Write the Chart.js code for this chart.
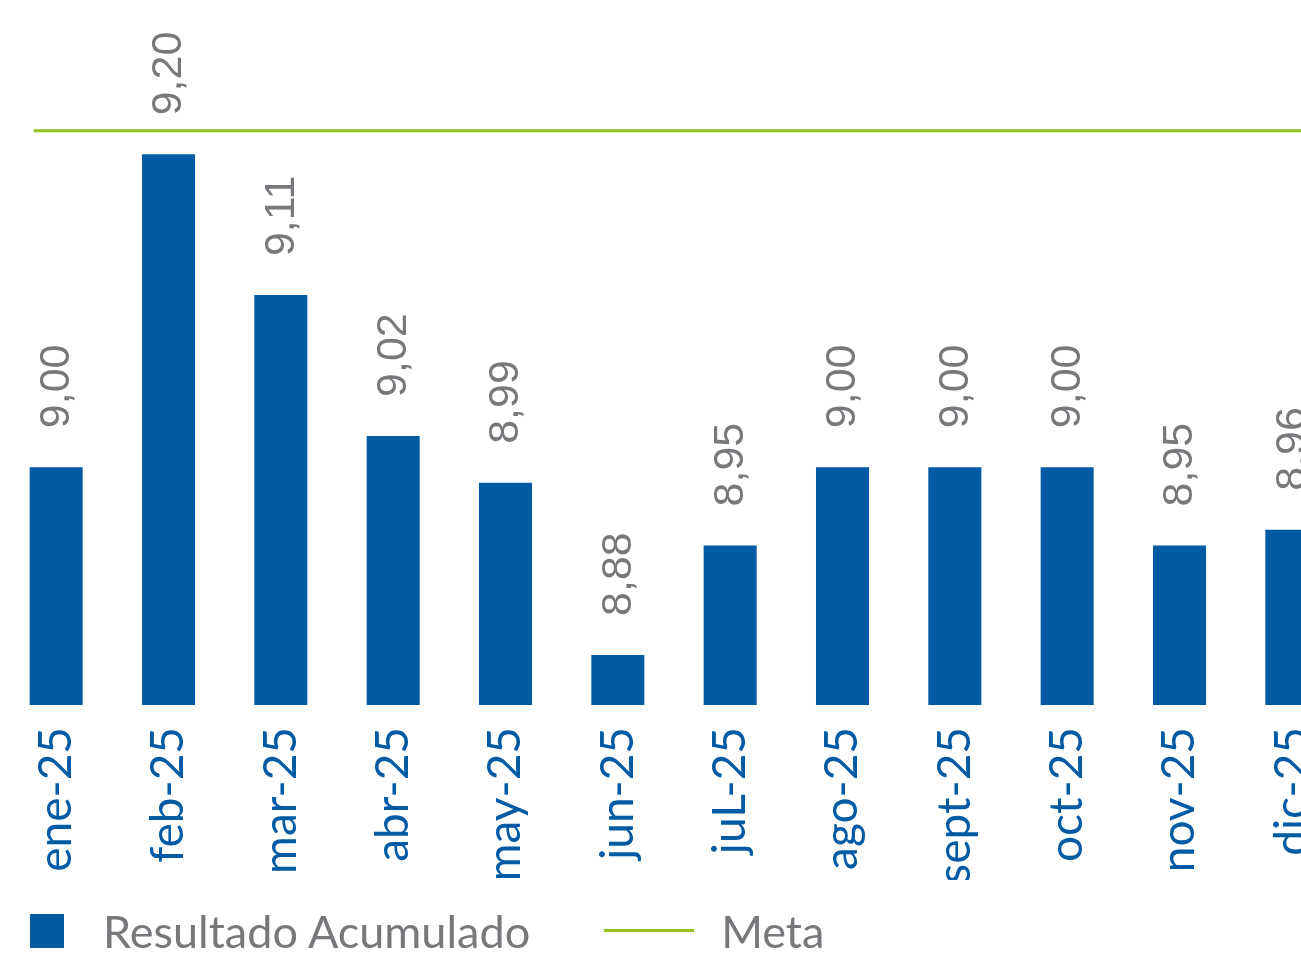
<!DOCTYPE html>
<html lang="es">
<head>
<meta charset="utf-8">
<title>Resultado Acumulado vs Meta</title>
<script src="https://cdn.jsdelivr.net/npm/chart.js@4/dist/chart.umd.min.js"></script>
<style>
  html, body { margin: 0; padding: 0; background: #ffffff; overflow: hidden; }
  #wrap { position: relative; width: 1348px; height: 955px; }
  #chart { display: block; }
  #legend { position: absolute; left: 0; top: 893px; height: 75px; width: 1301px;
            display: flex; align-items: center; font-family: Lato, sans-serif;
            font-size: 45px; color: #77787b; }
  .sw-box { width: 34px; height: 34px; margin-left: 30px; margin-right: 39px; }
  .sw-line { width: 90px; height: 3px; margin-left: 74px; margin-right: 27px; }
</style>
</head>
<body>
<div id="wrap">
  <canvas id="chart" width="1348" height="955"></canvas>
  <div id="legend"></div>
</div>
<script>
// Monthly values
const months = ['ene-25','feb-25','mar-25','abr-25','may-25','jun-25','juL-25','ago-25','sept-25','oct-25','nov-25','dic-25'];
const resultadoAcumulado = [9.00, 9.20, 9.11, 9.02, 8.99, 8.88, 8.95, 9.00, 9.00, 9.00, 8.95, 8.96];
const metaValue = 9.215;
const metaSpan = [-0.2, 11.5];

const BLUE = '#005ba4';
const GREEN = '#95c11f';
const GREY = '#77787b';

const fmt = v => v.toFixed(2).replace('.', ',');

// Vertical value labels above each bar
const barValueLabels = {
  id: 'barValueLabels',
  afterDatasetsDraw(chart) {
    const meta = chart.getDatasetMeta(0);
    const ctx = chart.ctx;
    ctx.save();
    ctx.fillStyle = GREY;
    ctx.font = '43px "Liberation Sans", Arial, sans-serif';
    ctx.textAlign = 'left';
    ctx.textBaseline = 'middle';
    meta.data.forEach((bar, i) => {
      ctx.save();
      ctx.translate(bar.x + 1, bar.y - 39);
      ctx.rotate(-Math.PI / 2);
      ctx.fillText(fmt(resultadoAcumulado[i]), 0, 0);
      ctx.restore();
    });
    ctx.restore();
  }
};

const chart = new Chart(document.getElementById('chart'), {
  type: 'bar',
  data: {
    labels: months,
    datasets: [
      {
        type: 'bar',
        label: 'Resultado Acumulado',
        data: resultadoAcumulado,
        backgroundColor: BLUE,
        borderWidth: 0,
        grouped: false,
        categoryPercentage: 1,
        barPercentage: 0.472,
        order: 2
      },
      {
        type: 'line',
        label: 'Meta',
        data: metaSpan.map(x => ({ x, y: metaValue })),
        xAxisID: 'x2',
        borderColor: GREEN,
        borderWidth: 3,
        pointRadius: 0,
        fill: false,
        order: 1
      }
    ]
  },
  options: {
    responsive: false,
    animation: false,
    layout: { padding: { top: 1, left: 0, right: 0, bottom: 75 } },
    plugins: {
      legend: { display: false },
      tooltip: { enabled: false }
    },
    scales: {
      x: {
        grid: { display: false, drawTicks: false },
        border: { display: false },
        ticks: {
          color: BLUE,
          font: { family: 'Lato, sans-serif', size: 46 },
          minRotation: 90,
          maxRotation: 90,
          padding: 22,
          autoSkip: false
        },
        afterFit(scale) {
          scale.height = 175;
          scale.paddingLeft = 0;
          scale.paddingRight = 0;
        }
      },
      x2: {
        type: 'linear',
        display: false,
        offset: false,
        grid: { offset: false },
        min: -0.5,
        max: 11.5
      },
      y: {
        display: false,
        min: 8.848,
        max: 9.298
      }
    }
  },
  plugins: [barValueLabels]
});

// Legend built from the datasets
const legend = document.getElementById('legend');
chart.data.datasets.forEach((ds) => {
  const sw = document.createElement('span');
  if (ds.type === 'line') {
    sw.className = 'sw-line';
    sw.style.background = ds.borderColor;
  } else {
    sw.className = 'sw-box';
    sw.style.background = ds.backgroundColor;
  }
  const txt = document.createElement('span');
  txt.textContent = ds.label;
  legend.appendChild(sw);
  legend.appendChild(txt);
});
</script>
</body>
</html>
